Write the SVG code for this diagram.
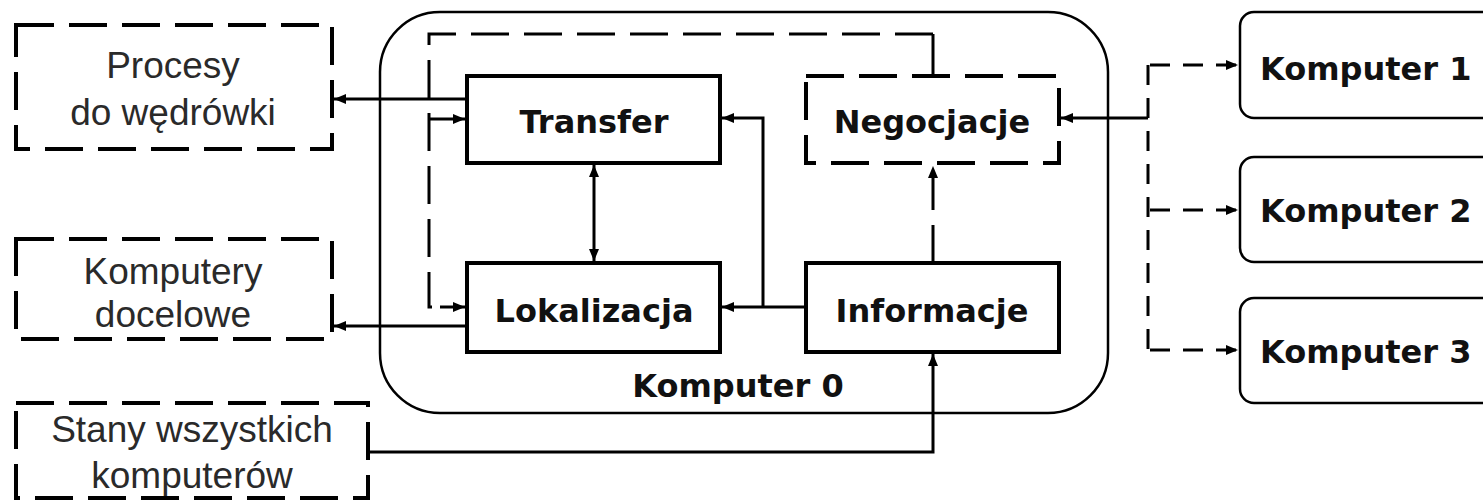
<svg xmlns="http://www.w3.org/2000/svg" width="1483" height="501" viewBox="0 0 1483 501">
<style>
.lt{font-family:"Liberation Sans",Arial,sans-serif;font-size:37px;fill:#2a2a2a;text-anchor:middle}
.bt{font-family:"DejaVu Sans",Verdana,sans-serif;font-weight:bold;font-size:32px;fill:#111;text-anchor:middle}
.rt{font-family:"DejaVu Sans",Verdana,sans-serif;font-weight:bold;font-size:32px;fill:#111}
.dbox{fill:none;stroke:#000;stroke-width:4;stroke-dasharray:38 15}
.box{fill:#fff;stroke:#000;stroke-width:4}
.rbox{fill:#fff;stroke:#000;stroke-width:2.5}
.ln{fill:none;stroke:#000;stroke-width:3}
.dl{fill:none;stroke:#000;stroke-width:3;stroke-dasharray:38 15}
.dr{fill:none;stroke:#000;stroke-width:3;stroke-dasharray:20 13}
</style>
<defs>
<marker id="ah" markerUnits="userSpaceOnUse" markerWidth="12" markerHeight="10" refX="12" refY="5" orient="auto-start-reverse">
<path d="M0,0 L12,5 L0,10 z" fill="#000"/>
</marker>
</defs>
<g id="komputer0">
<rect x="380" y="12" width="728" height="401" rx="60" ry="60" class="rbox"/>
<text x="738" y="397" class="bt">Komputer 0</text>
</g>
<g id="procesy">
<rect x="16" y="25" width="316" height="124" class="dbox"/>
<text x="173" y="78" class="lt">Procesy</text>
<text x="173" y="125" class="lt">do wędrówki</text>
</g>
<g id="komputery">
<rect x="16" y="239" width="316" height="100" class="dbox"/>
<text x="173" y="284" class="lt">Komputery</text>
<text x="173" y="327" class="lt">docelowe</text>
</g>
<g id="stany">
<rect x="16" y="403" width="352" height="95" class="dbox"/>
<text x="192" y="442" class="lt">Stany wszystkich</text>
<text x="192" y="488" class="lt">komputerów</text>
</g>
<g id="connectors">
<path class="dl" d="M933,34 L429,34 L429,307 L440,307"/>
<path class="ln" d="M933,76 L933,34"/>
<path class="ln" d="M440,307 L465,307" marker-end="url(#ah)"/>
<path class="ln" d="M429,119 L465,119" marker-end="url(#ah)"/>
<path class="ln" d="M467,99 L334,99" marker-end="url(#ah)"/>
<path class="ln" d="M467,326 L334,326" marker-end="url(#ah)"/>
<path class="ln" d="M594,165 L594,261" marker-start="url(#ah)" marker-end="url(#ah)"/>
<path class="ln" d="M806,307 L722,307" marker-end="url(#ah)"/>
<path class="ln" d="M763,307 L763,118 L722,118" marker-end="url(#ah)"/>
<path class="dl" d="M933,263 L933,166" marker-end="url(#ah)"/>
<path class="ln" d="M368,452 L933,452 L933,354" marker-end="url(#ah)"/>
<path class="ln" d="M1148,118 L1061,118" marker-end="url(#ah)"/>
<path class="dr" d="M1148,65 L1148,350"/>
<path class="dr" d="M1150,65 L1238,65" marker-end="url(#ah)"/>
<path class="dr" d="M1150,210 L1238,210" marker-end="url(#ah)"/>
<path class="dr" d="M1150,350 L1238,350" marker-end="url(#ah)"/>
</g>
<g id="transfer">
<rect x="467" y="76" width="253" height="87" class="box"/>
<text x="594" y="133" class="bt">Transfer</text>
</g>
<g id="negocjacje">
<rect x="806" y="76" width="253" height="87" class="dbox" style="fill:#fff"/>
<text x="932" y="133" class="bt">Negocjacje</text>
</g>
<g id="lokalizacja">
<rect x="467" y="263" width="253" height="89" class="box"/>
<text x="594" y="322" class="bt">Lokalizacja</text>
</g>
<g id="informacje">
<rect x="806" y="263" width="253" height="89" class="box"/>
<text x="932" y="322" class="bt">Informacje</text>
</g>
<g id="komputer1">
<rect x="1240" y="12" width="280" height="106" rx="14" ry="14" class="rbox"/>
<text x="1260" y="80" class="rt">Komputer 1</text>
</g>
<g id="komputer2">
<rect x="1240" y="157" width="280" height="105" rx="14" ry="14" class="rbox"/>
<text x="1260" y="222" class="rt">Komputer 2</text>
</g>
<g id="komputer3">
<rect x="1240" y="298" width="280" height="105" rx="14" ry="14" class="rbox"/>
<text x="1260" y="363" class="rt">Komputer 3</text>
</g>
</svg>
